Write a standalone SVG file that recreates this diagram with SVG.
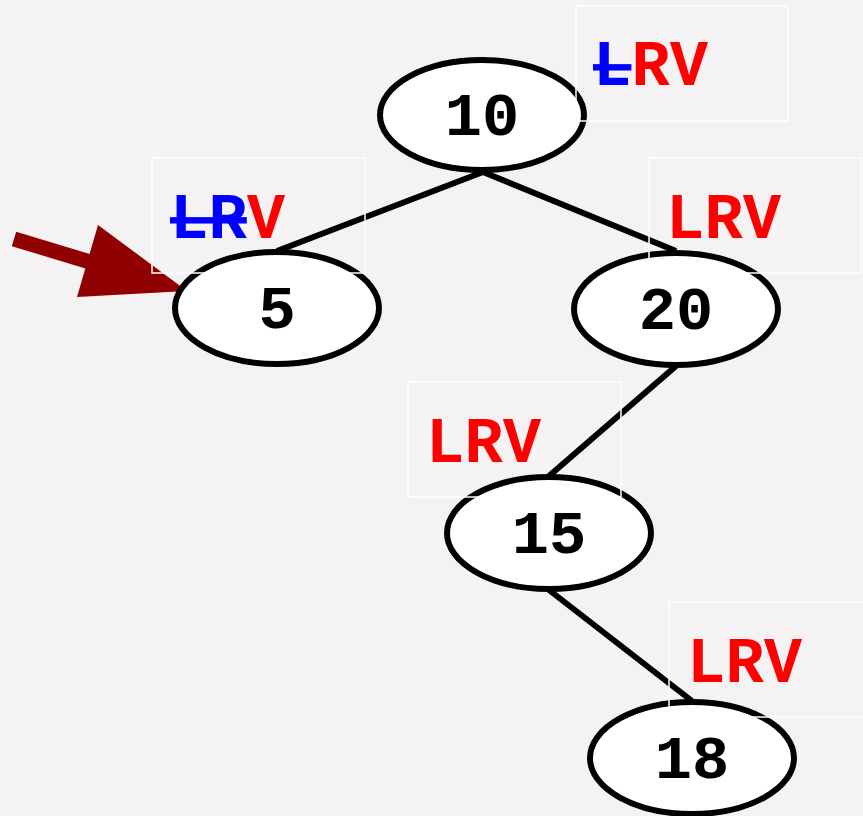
<svg xmlns="http://www.w3.org/2000/svg" width="863" height="816" viewBox="0 0 863 816">
<style>
.bg{fill:#f4f2f3}
.node ellipse{fill:#fff;stroke:#000;stroke-width:6}
.node text{font-family:"Liberation Mono","Courier New",monospace;font-weight:bold;font-size:62px;fill:#000;text-anchor:middle}
.edges line{stroke:#000;stroke-width:6}
.lbl rect{fill:none;stroke:#fff;stroke-width:1.5}
.lbl text{font-family:"Liberation Mono","Courier New",monospace;font-weight:bold;font-size:64px;fill:#f00}
.done{fill:#00f;text-decoration:line-through}
</style>
<rect class="bg" x="0" y="0" width="863" height="816"/>
<g id="edges" class="edges">
<line x1="483" y1="172" x2="277" y2="251"/>
<line x1="483" y1="172" x2="676" y2="251"/>
<line x1="676" y1="366" x2="549" y2="476"/>
<line x1="549" y1="590" x2="692" y2="701"/>
</g>
<g id="pointer">
<line x1="14" y1="239" x2="90" y2="262" stroke="#900000" stroke-width="15"/>
<polygon points="98,225 77,297 187,291" fill="#900000"/>
</g>
<g id="n10" class="node"><ellipse cx="482" cy="115" rx="102" ry="55"/><text x="482" y="135">10</text></g>
<g id="n5" class="node"><ellipse cx="277" cy="308" rx="102" ry="56"/><text x="277" y="328">5</text></g>
<g id="n20" class="node"><ellipse cx="676" cy="309" rx="102" ry="56"/><text x="676" y="329">20</text></g>
<g id="n15" class="node"><ellipse cx="549" cy="533" rx="102" ry="56"/><text x="549" y="553">15</text></g>
<g id="n18" class="node"><ellipse cx="692" cy="758" rx="102" ry="56"/><text x="692" y="778">18</text></g>
<g id="l10" class="lbl"><rect x="576" y="6" width="212" height="115"/><text x="593" y="85"><tspan class="done">L</tspan>RV</text></g>
<g id="l5" class="lbl"><rect x="152" y="158" width="213" height="115"/><text x="170" y="238"><tspan class="done">LR</tspan>V</text></g>
<g id="l20" class="lbl"><rect x="649" y="158" width="212" height="115"/><text x="666" y="238">LRV</text></g>
<g id="l15" class="lbl"><rect x="408" y="382" width="213" height="115"/><text x="426" y="462">LRV</text></g>
<g id="l18" class="lbl"><rect x="669" y="602" width="212" height="115"/><text x="687" y="682">LRV</text></g>
</svg>
